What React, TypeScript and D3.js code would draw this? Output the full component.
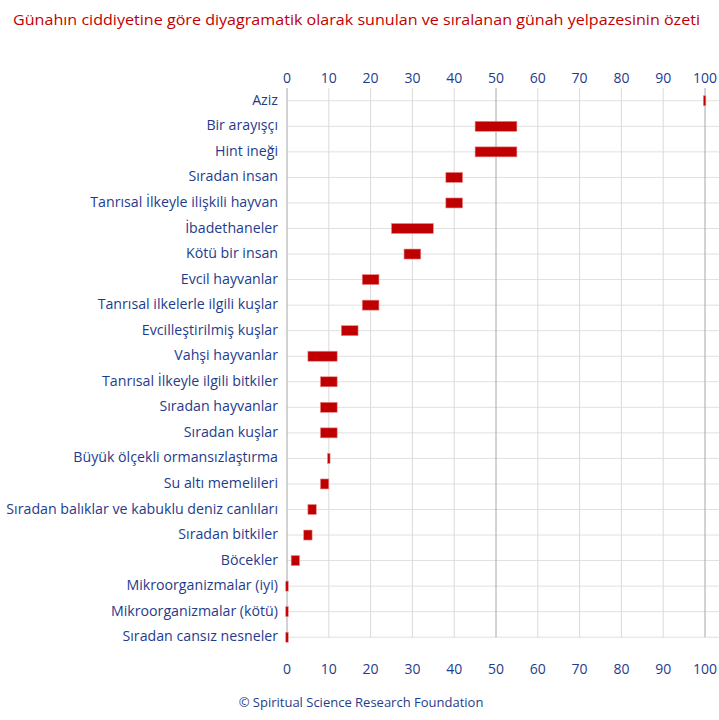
import React from 'react';
import * as d3 from 'd3';

const categories = [
  'Aziz',
  'Bir arayışçı',
  'Hint ineği',
  'Sıradan insan',
  'Tanrısal İlkeyle ilişkili hayvan',
  'İbadethaneler',
  'Kötü bir insan',
  'Evcil hayvanlar',
  'Tanrısal ilkelerle ilgili kuşlar',
  'Evcilleştirilmiş kuşlar',
  'Vahşi hayvanlar',
  'Tanrısal İlkeyle ilgili bitkiler',
  'Sıradan hayvanlar',
  'Sıradan kuşlar',
  'Büyük ölçekli ormansızlaştırma',
  'Su altı memelileri',
  'Sıradan balıklar ve kabuklu deniz canlıları',
  'Sıradan bitkiler',
  'Böcekler',
  'Mikroorganizmalar (iyi)',
  'Mikroorganizmalar (kötü)',
  'Sıradan cansız nesneler',
];

const rangeStart = [99.6, 45, 45, 38, 38, 25, 28, 18, 18, 13, 5, 8, 8, 8, 9.7, 8, 5, 4, 1, -0.3, -0.3, -0.3];
const rangeEnd = [100.2, 55, 55, 42, 42, 35, 32, 22, 22, 17, 12, 12, 12, 12, 10.3, 10, 7, 6, 3, 0.3, 0.3, 0.3];

const xTicks = [0, 10, 20, 30, 40, 50, 60, 70, 80, 90, 100];

const title = 'Günahın ciddiyetine göre diyagramatik olarak sunulan ve sıralanan günah yelpazesinin özeti';
const footer = '© Spiritual Science Research Foundation';

const W = 719;
const H = 720;
const margin = { top: 88, left: 287, bottom: 650, right: 705 };
const font = '"Open Sans", sans-serif';
const blue = '#1f3c8c';
const red = '#c00000';

export default function App() {
  const x = d3.scaleLinear().domain([0, 100]).range([margin.left, margin.right]);
  const y = d3
    .scaleBand<string>()
    .domain(categories)
    .range([margin.top, margin.bottom])
    .paddingInner(0)
    .paddingOuter(0);
  const bw = y.bandwidth();
  const barH = 10;
  const lastCenter = (y(categories[categories.length - 1]) ?? 0) + bw / 2;

  return (
    <svg width={W} height={H} style={{ position: 'absolute', left: 0, top: 0, background: '#fff' }}>
      <text x={356.5} y={25} textAnchor="middle" fill={red} fontFamily={font} fontSize={15}
        textLength={687} lengthAdjust="spacingAndGlyphs">
        {title}
      </text>

      {/* horizontal gridlines */}
      {categories.map((c) => {
        const cy = (y(c) ?? 0) + bw / 2;
        return <line key={c} x1={x(0)} x2={W} y1={cy} y2={cy} stroke="#e0e0e0" strokeWidth={1} />;
      })}

      {/* vertical gridlines */}
      {xTicks.map((t) => (
        <line
          key={t}
          x1={x(t)}
          x2={x(t)}
          y1={margin.top}
          y2={lastCenter}
          stroke={t % 50 === 0 ? '#a6a6a6' : '#dadada'}
          strokeWidth={1}
        />
      ))}

      {/* tick labels top and bottom */}
      {xTicks.map((t) => (
        <g key={'t' + t} fill={blue} fontFamily={font} fontSize={14} textAnchor="middle">
          <text x={x(t)} y={83}>{t}</text>
          <text x={x(t)} y={674}>{t}</text>
        </g>
      ))}

      {/* category labels */}
      {categories.map((c) => (
        <text
          key={'l' + c}
          x={278}
          y={(y(c) ?? 0) + bw / 2 + 4}
          textAnchor="end"
          fill={blue}
          fontFamily={font}
          fontSize={14.2}
        >
          {c}
        </text>
      ))}

      {/* range bars */}
      {categories.map((c, i) => (
        <rect
          key={'b' + c}
          x={x(rangeStart[i])}
          y={(y(c) ?? 0) + bw / 2 - barH / 2}
          width={x(rangeEnd[i]) - x(rangeStart[i])}
          height={barH}
          fill={red}
          stroke="#e88a8a"
          strokeWidth={0.6}
        />
      ))}

      <text x={361} y={707} textAnchor="middle" fill={blue} fontFamily={font} fontSize={13}>
        {footer}
      </text>
    </svg>
  );
}
